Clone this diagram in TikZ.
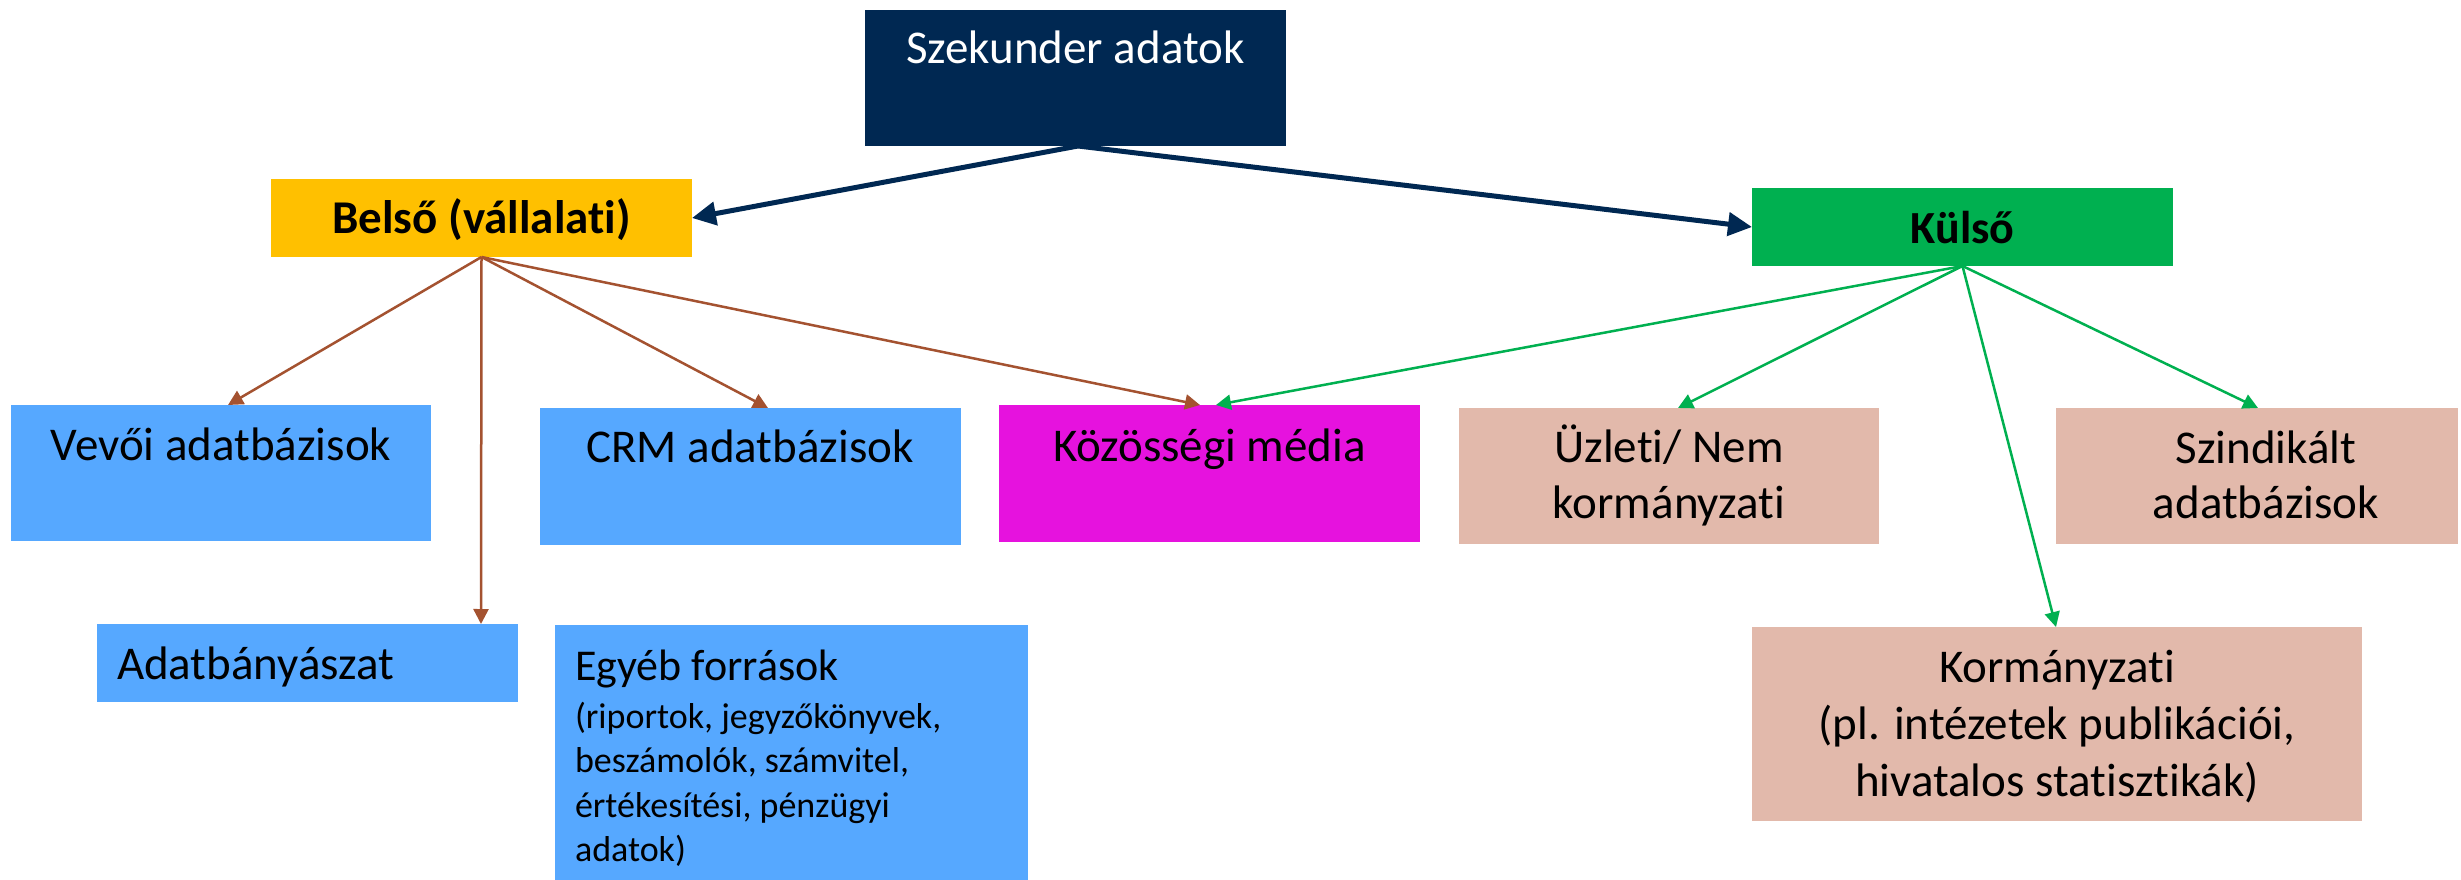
\documentclass[tikz,border=0pt]{standalone}
\usepackage{fontspec}
\setmainfont{Carlito}[Ligatures={NoCommon,NoContextual},Contextuals=NoAlternate]
\usetikzlibrary{arrows.meta,calc}
\definecolor{navy}{RGB}{0,40,82}
\definecolor{gold}{RGB}{255,192,0}
\definecolor{grn}{RGB}{0,176,80}
\definecolor{skyb}{RGB}{86,168,255}
\definecolor{magen}{RGB}{230,18,222}
\definecolor{rose}{RGB}{226,185,171}
\definecolor{brn}{RGB}{164,82,48}
\definecolor{grnline}{RGB}{0,176,80}
\tikzset{
  box/.style={draw=none, inner sep=0pt, outer sep=0pt, anchor=north west},
  txt/.style={inner sep=0pt, outer sep=0pt, anchor=base, font=\fontsize{47}{57}\selectfont},
  txtl/.style={txt, anchor=base west},
  smalltxt/.style={inner sep=0pt, outer sep=0pt, anchor=base west, font=\fontsize{36}{44}\selectfont},
  navyarrow/.style={draw=navy, line width=5pt, -{Triangle[length=24pt,width=23pt]}},
  brnarrow/.style={draw=brn, line width=2.5pt, -{Triangle[length=15pt,width=15pt]}},
  grnarrow/.style={draw=grnline, line width=2.5pt, -{Triangle[length=15pt,width=15pt]}}
}
\begin{document}
\begin{tikzpicture}[x=1pt,y=-1pt]
\fill[white] (0,0) rectangle (2461,880);
\useasboundingbox (0,0) rectangle (2461,880);

% boxes
\node[box, fill=navy, minimum width=421pt, minimum height=136pt] (sz) at (865,10) {};
\node[box, fill=gold, minimum width=421pt, minimum height=78pt] (bel) at (271,179) {};
\node[box, fill=grn, minimum width=421pt, minimum height=78pt] (kul) at (1752,188) {};
\node[box, fill=skyb, minimum width=420pt, minimum height=136pt] (vevo) at (11,405) {};
\node[box, fill=skyb, minimum width=421pt, minimum height=137pt] (crm) at (540,408) {};
\node[box, fill=magen, minimum width=421pt, minimum height=137pt] (koz) at (999,405) {};
\node[box, fill=rose, minimum width=420pt, minimum height=136pt] (uz) at (1459,408) {};
\node[box, fill=rose, minimum width=402pt, minimum height=136pt] (szind) at (2056,408) {};
\node[box, fill=skyb, minimum width=421pt, minimum height=78pt] (adat) at (97,624) {};
\node[box, fill=skyb, minimum width=473pt, minimum height=255pt] (egy) at (555,625) {};
\node[box, fill=rose, minimum width=610pt, minimum height=194pt] (korm) at (1752,627) {};

% texts
\node[txt, text=white] (tsz) at (1075.5,64) {Szekunder adatok};
\node[txt, font=\fontsize{47}{57}\selectfont\bfseries] (tbel) at (481.5,233) {Belső (vállalat\kern0pt i)};
\node[txt, font=\fontsize{46}{57}\selectfont\bfseries] (tkul) at (1962.5,243) {Külső};
\node[txt] (tvevo) at (221,460) {Vevői adatbázisok};
\node[txt] (tcrm) at (750,462) {CRM adatbázisok};
\node[txt] (tkoz) at (1209.5,461) {Közösségi média};
\node[txt] (tuz1) at (1669,462) {Üzlet\kern0pt i/ Nem};
\node[txt] (tuz2) at (1669,518) {kormányzat\kern0pt i};
\node[txt] (tsn1) at (2266,463) {Szindikált};
\node[txt] (tsn2) at (2266,518) {adatbázisok};
\node[txtl] (tadat) at (117,679) {Adatbányászat};
\node[txtl, font=\fontsize{44}{54}\selectfont] (tegy) at (575,680) {Egyéb források};
\node[smalltxt] (te1) at (575,728) {(riportok, jegyzőkönyvek,};
\node[smalltxt] (te2) at (575,772) {beszámolók, számvitel,};
\node[smalltxt] (te3) at (575,817) {értékesítési, pénzügyi};
\node[smalltxt] (te4) at (575,861) {adatok)};
\node[txt] (tk1) at (2057,682) {Kormányzat\kern0pt i};
\node[txt] (tk2) at (2057,739) {(pl. intézetek publikációi,};
\node[txt] (tk3) at (2057,796) {hivatalos statiszt\kern0pt ikák)};

% connectors
\draw[navyarrow] ($(sz.south)+(2.5,0)$) -- (bel.east);
\draw[navyarrow] ($(sz.south)+(2.5,0)$) -- (kul.west);

\draw[brnarrow] (bel.south) -- ($(vevo.north west)+(217,0)$);
\draw[brnarrow] (bel.south) -- ($(adat.north west)+(384,0)$);
\draw[brnarrow] (bel.south) -- ($(crm.north west)+(228,0)$);
\draw[brnarrow] (bel.south) -- ($(koz.north west)+(201,0)$);

\draw[grnarrow] (kul.south) -- ($(koz.north west)+(217,0)$);
\draw[grnarrow] (kul.south) -- ($(uz.north west)+(219,0)$);
\draw[grnarrow] (kul.south) -- ($(korm.north west)+(304,0)$);
\draw[grnarrow] (kul.south) -- ($(szind.north west)+(202,0)$);
\end{tikzpicture}
\end{document}
